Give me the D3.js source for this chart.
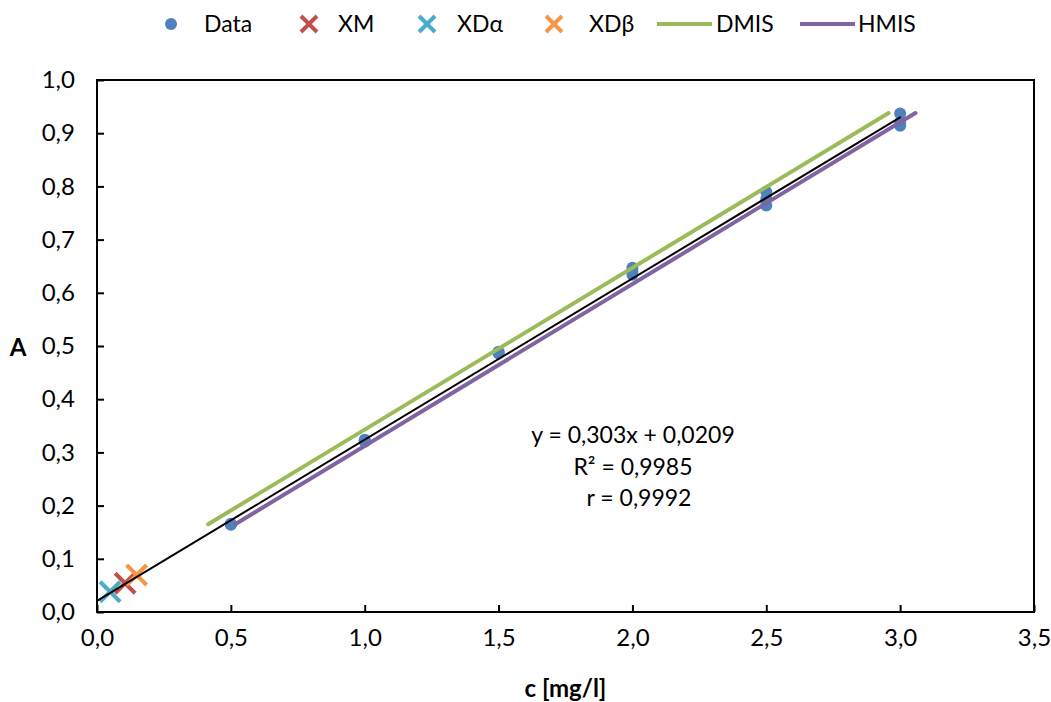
<!DOCTYPE html>
<html>
<head>
<meta charset="utf-8">
<script src="https://cdn.jsdelivr.net/npm/d3@7"></script>
<style>
  html, body { margin: 0; padding: 0; background: #fff; }
  svg text { font-family: Lato, "Open Sans", sans-serif; fill: #000; }
</style>
</head>
<body>
<svg id="chart" width="1051" height="702"></svg>
<script>
// Calibration measurements: concentration c [mg/l] vs absorbance A
const dataX = [0.5, 0.5, 0.5, 1.0, 1.0, 1.0, 1.5, 1.5, 1.5, 2.0, 2.0, 2.0, 2.5, 2.5, 2.5, 3.0, 3.0, 3.0];
const dataY = [0.164, 0.165, 0.166, 0.320, 0.322, 0.324, 0.486, 0.488, 0.489, 0.634, 0.640, 0.647, 0.764, 0.777, 0.790, 0.914, 0.920, 0.937];

// Limit points
const xmPoint = [0.105, 0.054];
const xdAlphaPoint = [0.049, 0.038];
const xdBetaPoint = [0.148, 0.0695];

// Regression line y = 0,303x + 0,0209
const regX = [0, 3.0];
const regY = [0.0209, 0.9299];

// Confidence band lines
const dmisX = [0.415, 2.957];
const dmisY = [0.165, 0.938];
const hmisX = [0.516, 3.057];
const hmisY = [0.165, 0.938];

const xTicks = [0, 0.5, 1.0, 1.5, 2.0, 2.5, 3.0, 3.5];
const yTicks = [0, 0.1, 0.2, 0.3, 0.4, 0.5, 0.6, 0.7, 0.8, 0.9, 1.0];

const equationLines = ["y = 0,303x + 0,0209", "R² = 0,9985", "r = 0,9992"];

const colors = {
  data: "#4F81BD", xm: "#C0504D", xdA: "#4BACC6", xdB: "#F79646",
  dmis: "#9BBB59", hmis: "#8064A2"
};

const svg = d3.select("#chart");
const margin = { left: 97, right: 1034, top: 80, bottom: 612 };

const x = d3.scaleLinear().domain([0, 3.5]).range([margin.left, margin.right]);
const y = d3.scaleLinear().domain([0, 1.0]).range([margin.bottom, margin.top]);
const fmt = v => d3.format(".1f")(v).replace(".", ",");

// Axes with inward ticks
const xAxis = d3.axisBottom(x).tickValues(xTicks).tickFormat(fmt).tickSizeInner(-7).tickSizeOuter(0).tickPadding(17);
const yAxis = d3.axisLeft(y).tickValues(yTicks).tickFormat(fmt).tickSizeInner(-7).tickSizeOuter(0).tickPadding(22);

const gx = svg.append("g").attr("transform", `translate(0,${margin.bottom})`).call(xAxis);
const gy = svg.append("g").attr("transform", `translate(${margin.left},0)`).call(yAxis);
[gx, gy].forEach(g => {
  g.select(".domain").remove();
  g.selectAll(".tick line").attr("stroke", "#000").attr("stroke-width", 2);
  g.selectAll(".tick text").style("font-size", "24px");
});

// Plot frame
svg.append("rect")
  .attr("x", margin.left).attr("y", margin.top)
  .attr("width", margin.right - margin.left).attr("height", margin.bottom - margin.top)
  .attr("fill", "none").attr("stroke", "#000").attr("stroke-width", 2);

// Data points
svg.append("g").selectAll("circle")
  .data(dataX.map((d, i) => [d, dataY[i]]))
  .join("circle")
  .attr("cx", d => x(d[0])).attr("cy", d => y(d[1])).attr("r", 6)
  .attr("fill", colors.data);

// Cross markers
function cross(g, cx, cy, half, color, w) {
  g.append("path")
    .attr("d", `M${cx - half},${cy - half}L${cx + half},${cy + half}M${cx - half},${cy + half}L${cx + half},${cy - half}`)
    .attr("stroke", color).attr("stroke-width", w).attr("fill", "none");
}
const gCross = svg.append("g");
cross(gCross, x(xdAlphaPoint[0]), y(xdAlphaPoint[1]), 10, colors.xdA, 4);
cross(gCross, x(xmPoint[0]), y(xmPoint[1]), 10, colors.xm, 4);
cross(gCross, x(xdBetaPoint[0]), y(xdBetaPoint[1]), 10, colors.xdB, 4);

// Lines
const line = d3.line().x(d => x(d[0])).y(d => y(d[1]));
function drawLine(xs, ys, color, w) {
  svg.append("path")
    .datum(xs.map((d, i) => [d, ys[i]]))
    .attr("d", line)
    .attr("stroke", color).attr("stroke-width", w)
    .attr("stroke-linecap", "round").attr("fill", "none");
}
drawLine(dmisX, dmisY, colors.dmis, 4);
drawLine(hmisX, hmisY, colors.hmis, 4);
drawLine(regX, regY, "#000", 2);

// Equation label
const eq = svg.append("g").style("font-size", "23px");
eq.append("text").attr("x", 633).attr("y", 443).attr("text-anchor", "middle").text(equationLines[0]);
eq.append("text").attr("x", 633).attr("y", 475).attr("text-anchor", "middle").text(equationLines[1]);
eq.append("text").attr("x", 639).attr("y", 506).attr("text-anchor", "middle").text(equationLines[2]);

// Axis titles
svg.append("text").attr("x", (margin.left + margin.right) / 2).attr("y", 697)
  .attr("text-anchor", "middle").style("font-size", "24px").style("font-weight", "bold").text("c [mg/l]");
svg.append("text").attr("x", 18).attr("y", 356)
  .attr("text-anchor", "middle").style("font-size", "24px").style("font-weight", "bold").text("A");

// Legend
const lg = svg.append("g");
const ly = 24;
lg.append("circle").attr("cx", 171).attr("cy", ly).attr("r", 6).attr("fill", colors.data);
cross(lg, 309, ly, 8, colors.xm, 4);
cross(lg, 427, ly, 8, colors.xdA, 4);
cross(lg, 554, ly, 8, colors.xdB, 4);
lg.append("line").attr("x1", 657).attr("x2", 712).attr("y1", ly).attr("y2", ly)
  .attr("stroke", colors.dmis).attr("stroke-width", 4);
lg.append("line").attr("x1", 800).attr("x2", 855).attr("y1", ly).attr("y2", ly)
  .attr("stroke", colors.hmis).attr("stroke-width", 4);
const legendLabels = [["Data", 204], ["XM", 338], ["XDα", 457], ["XDβ", 589], ["DMIS", 716], ["HMIS", 858]];
legendLabels.forEach(([t, lx]) => {
  lg.append("text").attr("x", lx).attr("y", ly + 8).style("font-size", "23px").text(t);
});
</script>
</body>
</html>
